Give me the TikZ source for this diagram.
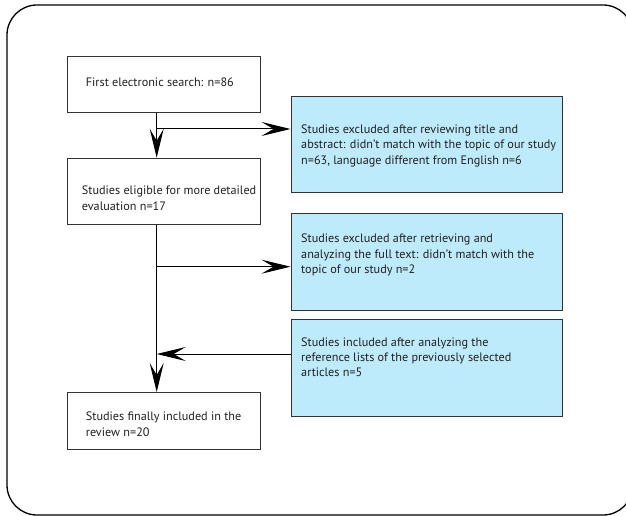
\documentclass[tikz,border=0pt]{standalone}
\usepackage{fontspec}
\setmainfont{PT Sans}
\usetikzlibrary{arrows.meta}
\definecolor{boxblue}{RGB}{189,235,252}
\definecolor{edgegray}{RGB}{50,50,50}
\definecolor{txtgray}{RGB}{35,31,32}
\begin{document}
\begin{tikzpicture}[x=1pt,y=-1pt,
  whitebox/.style={draw=edgegray,line width=1.3pt,fill=white,minimum width=193.3pt,inner sep=0pt,anchor=north west},
  bluebox/.style={draw=edgegray,line width=1.3pt,fill=boxblue,minimum width=271.5pt,minimum height=97pt,inner sep=0pt,anchor=north west},
  boxtext/.style={inner sep=0pt,anchor=base west,align=left,text=txtgray,font=\fontsize{12.2}{15.3}\selectfont},
  arr/.style={line width=1pt,-{Stealth[length=29pt,width=14pt,inset=12pt]}}]
\useasboundingbox (0,0) rectangle (626,516);
\draw[line width=1.3pt,rounded corners=30pt] (7,5) rectangle (633,515);
% boxes
\node[whitebox,minimum height=56.3pt] (b1) at (66.7,55.7) {};
\node[whitebox,minimum height=66.3pt] (b2) at (66.7,157.7) {};
\node[whitebox,minimum height=57pt] (b3) at (66.7,392) {};
\node[bluebox,minimum height=96pt] (c1) at (290.5,95.7) {};
\node[bluebox] (c2) at (290.5,213) {};
\node[bluebox] (c3) at (290.5,319) {};
% texts (anchor = baseline of last line)
\node[boxtext] (t1) at (85.7,86.5) {First electronic search: n=86};
\node[boxtext] (t2) at (81.7,210) {Studies eligible for more detailed\\evaluation n=17};
\node[boxtext] (t3) at (85.7,436) {Studies finally included in the\\review n=20};
\node[boxtext] (u1) at (301,164.3) {Studies excluded after reviewing title and\\abstract: didn't match with the topic of our study\\n=63, language different from English n=6};
\node[boxtext] (u2) at (301,273.3) {Studies excluded after retrieving and\\analyzing the full text: didn't match with the\\topic of our study n=2};
\node[boxtext] (u3) at (301,376.7) {Studies included after analyzing the\\reference lists of the previously selected\\articles n=5};
% connectors
\coordinate (sp) at (156.7,0);
\coordinate (j1) at (156.7,129);
\coordinate (j2) at (156.7,266.7);
\coordinate (j3) at (156.7,354);
\draw[arr] (sp |- b1.south) -- (sp |- b2.north);
\draw[arr] (j1) -- (j1 -| c1.west);
\draw[arr] (sp |- b2.south) -- (sp |- b3.north);
\draw[arr] (j2) -- (j2 -| c2.west);
\draw[arr] (j3 -| c3.west) -- (j3);
\end{tikzpicture}
\end{document}
